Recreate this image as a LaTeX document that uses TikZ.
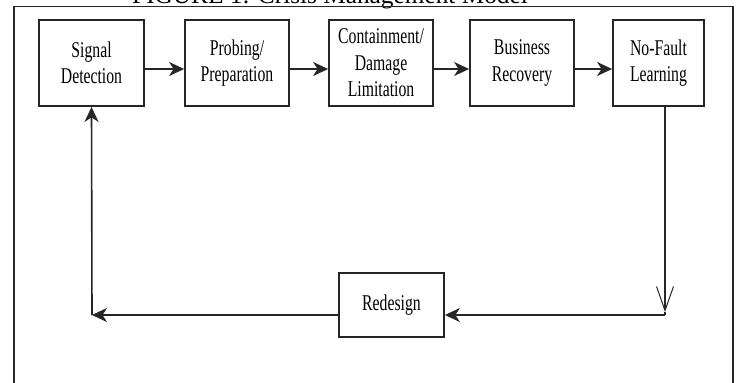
\documentclass[tikz,border=0pt]{standalone}
\usepackage{fontspec}
\setmainfont{Liberation Serif}
\newfontfamily\boxfont[FakeStretch=0.7]{Liberation Serif}
\usetikzlibrary{arrows.meta}
\definecolor{ink}{HTML}{262626}
\tikzset{
  stagebox/.style={draw=ink, line width=1.8pt, rectangle, inner sep=0pt, align=center,
    font=\boxfont\fontsize{22.5}{26.5}\selectfont, text=black},
  flow/.style={draw=ink, line width=1.6pt, -{Stealth[length=15pt,width=14pt,inset=4.5pt]}},
  plain/.style={draw=ink, line width=1.5pt},
  frame/.style={draw=ink, line width=1.4pt}
}
\begin{document}
\begin{tikzpicture}[x=1pt,y=-1pt]
\useasboundingbox (0,0) rectangle (740,383);
\clip (0,0) rectangle (740,383);
% title, cut off by the top edge as in the reference
\node[anchor=base west, inner sep=0pt, font=\fontsize{25.3}{30}\selectfont] (title) at (132,3) {FIGURE 1: Crisis Management Model};
% outer frame
\draw[frame] (14,400) -- (14,6.5) -- (733,6.5) -- (733,400);
% stages
\node[stagebox, minimum width=105pt, minimum height=86pt] (sd) at (91.5,63) {Signal\\Detection};
\node[stagebox, minimum width=104pt, minimum height=86pt] (pp) at (237,63) {Probing/\\Preparation};
\node[stagebox, minimum width=104pt, minimum height=86pt] (cd) at (381,63) {Containment/\\Damage\\Limitation};
\node[stagebox, minimum width=104pt, minimum height=86pt] (br) at (522,63) {Business\\Recovery};
\node[stagebox, minimum width=91pt, minimum height=86pt] (nf) at (658.5,63) {No-Fault\\Learning};
\node[stagebox, minimum width=105pt, minimum height=64pt] (rd) at (391.5,305) {Redesign};
% coordinates for the return loop
\coordinate (vtip) at (665,312);
\coordinate (c1) at (665,315);
\coordinate (c2) at (92,315);
% forward arrows
\draw[flow] ([yshift=-6pt]sd.east) -- ([yshift=-6pt]pp.west);
\draw[flow] ([yshift=-6pt]pp.east) -- ([yshift=-6pt]cd.west);
\draw[flow] ([yshift=-6pt]cd.east) -- ([yshift=-6pt]br.west);
\draw[flow] ([yshift=-6pt]br.east) -- ([yshift=-6pt]nf.west);
% return loop
\draw[draw=ink, line width=1.3pt, -{Straight Barb[length=24pt,width=17pt,line width=1pt]}] ([xshift=6.5pt]nf.south) -- (vtip);
\draw[plain] (vtip) -- (c1);
\draw[flow] (c1) -- ([yshift=-10pt]rd.east);
\draw[flow] ([yshift=-10pt]rd.west) -- (c2);
\draw[flow] (c2) -- (sd.south);
\end{tikzpicture}
\end{document}
